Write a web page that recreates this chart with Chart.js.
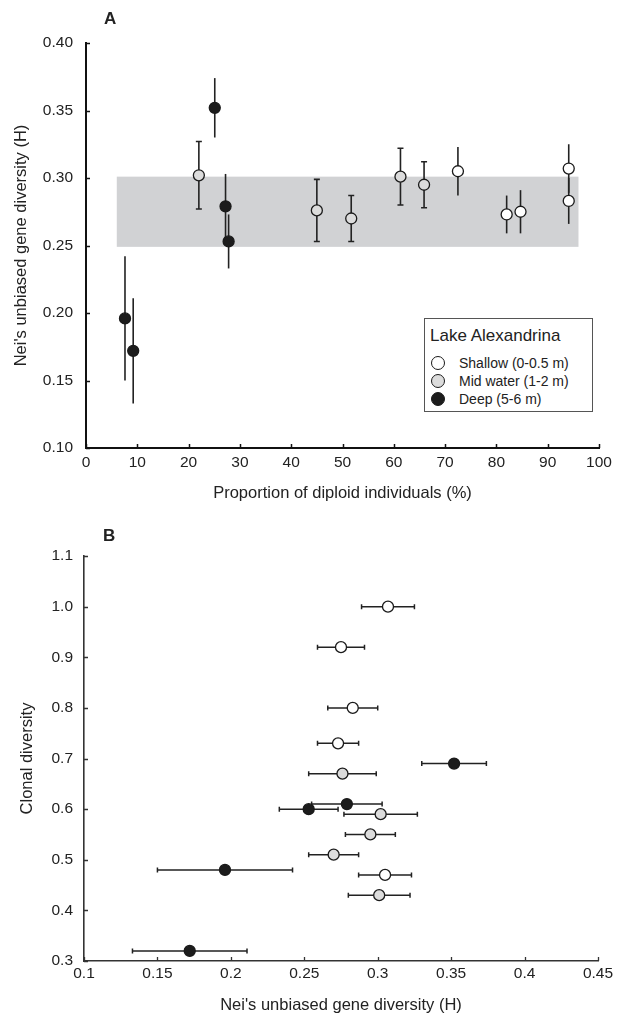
<!DOCTYPE html>
<html>
<head>
<meta charset="utf-8">
<script src="https://cdn.jsdelivr.net/npm/chart.js@4.4.1/dist/chart.umd.min.js"></script>
<style>
  html, body { margin: 0; padding: 0; background: #fff; }
  body { width: 623px; height: 1018px; position: relative; overflow: hidden;
         font-family: "Liberation Sans", Arial, Helvetica, sans-serif; color: #222; }
  .panel { position: absolute; left: 0; width: 623px; height: 509px; }
  #panelA { top: 0; }
  #panelB { top: 509px; }
  .tag { position: absolute; font-weight: bold; font-size: 17px; line-height: 20px; }
  #legend { position: absolute; left: 424px; top: 318px; width: 169px; height: 94px;
            border: 1px solid #555; box-sizing: border-box; background: #fff; }
  #legend .ttl { position: absolute; left: 5px; top: 7px; font-size: 17px; line-height: 20px; }
  #legend .row { position: absolute; left: 6px; height: 16px; font-size: 14px; line-height: 16px; }
  #legend .dot { position: absolute; left: 0; top: 1px; width: 14px; height: 14px; border-radius: 50%;
                 border: 1.3px solid #1a1a1a; box-sizing: border-box; }
  #legend .lbl { position: absolute; left: 28px; top: 0; white-space: nowrap; }
</style>
</head>
<body>
<div class="panel" id="panelA"><canvas id="chartA" width="623" height="509"></canvas></div>
<div class="panel" id="panelB"><canvas id="chartB" width="623" height="509"></canvas></div>
<div class="tag" style="left:104px; top:9px;">A</div>
<div class="tag" style="left:103px; top:526px;">B</div>
<div id="legend"></div>

<script>
// ---- Population groups (Lake Alexandrina sampling depths) ----
const groupNames = ['Shallow (0-0.5 m)', 'Mid water (1-2 m)', 'Deep (5-6 m)'];
const legendTitle = 'Lake Alexandrina';

// Shallow sites
const shallowDiploid = [72.5, 82.0, 84.7, 94.1, 94.1];
const shallowH       = [0.305, 0.273, 0.275, 0.307, 0.283];
const shallowHLow    = [0.287, 0.259, 0.259, 0.289, 0.266];
const shallowHHigh   = [0.323, 0.287, 0.291, 0.325, 0.300];
const shallowClonal  = [0.47, 0.73, 0.92, 1.00, 0.80];

// Mid water sites
const midDiploid = [22.0, 45.0, 51.7, 61.3, 65.9];
const midH       = [0.302, 0.276, 0.270, 0.301, 0.295];
const midHLow    = [0.277, 0.253, 0.253, 0.280, 0.278];
const midHHigh   = [0.327, 0.299, 0.287, 0.322, 0.312];
const midClonal  = [0.59, 0.67, 0.51, 0.43, 0.55];

// Deep sites
const deepDiploid = [7.6, 9.2, 25.1, 27.2, 27.8];
const deepH       = [0.196, 0.172, 0.352, 0.279, 0.253];
const deepHLow    = [0.150, 0.133, 0.330, 0.255, 0.233];
const deepHHigh   = [0.242, 0.211, 0.374, 0.303, 0.273];
const deepClonal  = [0.48, 0.32, 0.69, 0.61, 0.60];

// Shaded reference band in panel A
const bandDiploid = [6, 96];
const bandH       = [0.249, 0.301];

// Axis ticks
const diploidTicks      = [0, 10, 20, 30, 40, 50, 60, 70, 80, 90, 100];
const diploidTickLabels = ['0', '10', '20', '30', '40', '50', '60', '70', '80', '90', '100'];
const hTicksA           = [0.10, 0.15, 0.20, 0.25, 0.30, 0.35, 0.40];
const hTickLabelsA      = ['0.10', '0.15', '0.20', '0.25', '0.30', '0.35', '0.40'];
const hTicksB           = [0.1, 0.15, 0.2, 0.25, 0.3, 0.35, 0.4, 0.45];
const hTickLabelsB      = ['0.1', '0.15', '0.2', '0.25', '0.3', '0.35', '0.4', '0.45'];
const clonalTicks       = [0.3, 0.4, 0.5, 0.6, 0.7, 0.8, 0.9, 1.0, 1.1];
const clonalTickLabels  = ['0.3', '0.4', '0.5', '0.6', '0.7', '0.8', '0.9', '1.0', '1.1'];

// ---- Styling ----
const FONT = '"Liberation Sans", Arial, Helvetica, sans-serif';
const INK = '#222';
const fills = ['#ffffff', '#dcdcdc', '#1c1c1c'];
const capInA = [false, true, false];

const groups = [
  { diploid: shallowDiploid, h: shallowH, lo: shallowHLow, hi: shallowHHigh, clonal: shallowClonal },
  { diploid: midDiploid, h: midH, lo: midHLow, hi: midHHigh, clonal: midClonal },
  { diploid: deepDiploid, h: deepH, lo: deepHLow, hi: deepHHigh, clonal: deepClonal }
];

Chart.defaults.font.family = FONT;
Chart.defaults.color = INK;
Chart.defaults.devicePixelRatio = 1;

// Shaded band behind the points
const bandPlugin = {
  id: 'band',
  beforeDatasetsDraw(chart, args, opts) {
    if (!opts || !opts.xRange) return;
    const { ctx, scales: { x, y } } = chart;
    const x0 = x.getPixelForValue(opts.xRange[0]), x1 = x.getPixelForValue(opts.xRange[1]);
    const y0 = y.getPixelForValue(opts.yRange[1]), y1 = y.getPixelForValue(opts.yRange[0]);
    ctx.save();
    ctx.fillStyle = opts.color;
    ctx.fillRect(x0, y0, x1 - x0, y1 - y0);
    ctx.restore();
  }
};

// Error bars from each dataset's errLow / errHigh arrays
const errorBarPlugin = {
  id: 'errorBars',
  beforeDatasetsDraw(chart, args, opts) {
    const { ctx, scales: { x, y } } = chart;
    ctx.save();
    ctx.strokeStyle = opts.color || INK;
    ctx.lineWidth = opts.width || 1.5;
    chart.data.datasets.forEach(ds => {
      if (!ds.errLow) return;
      ds.data.forEach((p, i) => {
        const lo = ds.errLow[i], hi = ds.errHigh[i];
        const cap = ds.errCap || 0;
        ctx.beginPath();
        if (ds.errAxis === 'y') {
          const px = x.getPixelForValue(p.x);
          const pyLo = y.getPixelForValue(lo), pyHi = y.getPixelForValue(hi);
          ctx.moveTo(px, pyLo); ctx.lineTo(px, pyHi);
          if (cap) {
            ctx.moveTo(px - cap, pyLo); ctx.lineTo(px + cap, pyLo);
            ctx.moveTo(px - cap, pyHi); ctx.lineTo(px + cap, pyHi);
          }
        } else {
          const py = y.getPixelForValue(p.y);
          const pxLo = x.getPixelForValue(lo), pxHi = x.getPixelForValue(hi);
          ctx.moveTo(pxLo, py); ctx.lineTo(pxHi, py);
          if (cap) {
            ctx.moveTo(pxLo, py - cap); ctx.lineTo(pxLo, py + cap);
            ctx.moveTo(pxHi, py - cap); ctx.lineTo(pxHi, py + cap);
          }
        }
        ctx.stroke();
      });
    });
    ctx.restore();
  }
};

// Tick marks pointing into the plot area
const inwardTicksPlugin = {
  id: 'inwardTicks',
  afterDatasetsDraw(chart, args, opts) {
    const { ctx, chartArea, scales: { x, y } } = chart;
    const len = opts.length || 4;
    ctx.save();
    ctx.strokeStyle = opts.color || INK;
    ctx.lineWidth = opts.width || 1.5;
    ctx.beginPath();
    x.ticks.forEach(t => {
      const px = Math.round(x.getPixelForValue(t.value)) + 0.5;
      ctx.moveTo(px, chartArea.bottom); ctx.lineTo(px, chartArea.bottom - len);
    });
    y.ticks.forEach(t => {
      const py = Math.round(y.getPixelForValue(t.value)) + 0.5;
      ctx.moveTo(chartArea.left, py); ctx.lineTo(chartArea.left + len, py);
    });
    ctx.stroke();
    ctx.restore();
  }
};

function fixedTicks(values) {
  return scale => { scale.ticks = values.map(v => ({ value: v })); };
}

function pointStyle(g) {
  return {
    backgroundColor: fills[g],
    borderColor: '#1a1a1a',
    borderWidth: 1.3,
    pointRadius: 5.5,
    pointHoverRadius: 5.5,
    pointStyle: 'circle'
  };
}

// ---- Panel A: gene diversity vs proportion of diploids ----
const datasetsA = groups.map((g, gi) => Object.assign({
  label: groupNames[gi],
  data: g.diploid.map((d, i) => ({ x: d, y: g.h[i] })),
  errLow: g.lo, errHigh: g.hi, errAxis: 'y', errCap: capInA[gi] ? 3 : 0
}, pointStyle(gi)));

new Chart(document.getElementById('chartA'), {
  type: 'scatter',
  data: { datasets: datasetsA },
  options: {
    responsive: false,
    animation: false,
    layout: { padding: { top: 43, right: 24, left: 0, bottom: 0 } },
    plugins: {
      legend: { display: false },
      tooltip: { enabled: false },
      band: { xRange: bandDiploid, yRange: bandH, color: '#d1d2d4' },
      errorBars: { color: '#222', width: 1.6 },
      inwardTicks: { color: '#111', width: 1.5, length: 4 }
    },
    scales: {
      x: {
        type: 'linear', min: 0, max: 100,
        afterBuildTicks: fixedTicks(diploidTicks),
        afterFit: s => { s.height = 61; },
        grid: { display: false, drawTicks: false },
        border: { display: true, color: '#111', width: 2 },
        ticks: { padding: 5, color: INK, font: { size: 15.5 }, maxRotation: 0,
                 callback: (v, i) => diploidTickLabels[i] },
        title: { display: true, text: 'Proportion of diploid individuals (%)', color: INK,
                 font: { size: 16.5 }, padding: { top: 0, bottom: 6 } }
      },
      y: {
        type: 'linear', min: 0.10, max: 0.40,
        afterBuildTicks: fixedTicks(hTicksA),
        afterFit: s => { s.width = 86; },
        grid: { display: false, drawTicks: false },
        border: { display: true, color: '#111', width: 2 },
        ticks: { padding: 13, color: INK, font: { size: 15.5 },
                 callback: (v, i) => hTickLabelsA[i] },
        title: { display: true, text: "Nei's unbiased gene diversity (H)", color: INK,
                 font: { size: 16.5 }, padding: { top: 12, bottom: 0 } }
      }
    }
  },
  plugins: [bandPlugin, errorBarPlugin, inwardTicksPlugin]
});

// ---- Panel B: clonal diversity vs gene diversity ----
const datasetsB = groups.map((g, gi) => Object.assign({
  label: groupNames[gi],
  data: g.h.map((h, i) => ({ x: h, y: g.clonal[i] })),
  errLow: g.lo, errHigh: g.hi, errAxis: 'x', errCap: 2.5
}, pointStyle(gi)));

new Chart(document.getElementById('chartB'), {
  type: 'scatter',
  data: { datasets: datasetsB },
  options: {
    responsive: false,
    animation: false,
    layout: { padding: { top: 47, right: 25, left: 0, bottom: 0 } },
    plugins: {
      legend: { display: false },
      tooltip: { enabled: false },
      errorBars: { color: '#222', width: 1.5 },
      inwardTicks: { color: '#333', width: 1.3, length: 4 }
    },
    scales: {
      x: {
        type: 'linear', min: 0.1, max: 0.45,
        afterBuildTicks: fixedTicks(hTicksB),
        afterFit: s => { s.height = 57; },
        grid: { display: false, drawTicks: false },
        border: { display: true, color: '#333', width: 1.6 },
        ticks: { padding: 3, color: INK, font: { size: 15.5 }, maxRotation: 0,
                 callback: (v, i) => hTickLabelsB[i] },
        title: { display: true, text: "Nei's unbiased gene diversity (H)", color: INK,
                 font: { size: 16.5 }, padding: { top: 0, bottom: 3 } }
      },
      y: {
        type: 'linear', min: 0.3, max: 1.1,
        afterBuildTicks: fixedTicks(clonalTicks),
        afterFit: s => { s.width = 84; },
        grid: { display: false, drawTicks: false },
        border: { display: true, color: '#333', width: 1.6 },
        ticks: { padding: 11, color: INK, font: { size: 15.5 },
                 callback: (v, i) => clonalTickLabels[i] },
        title: { display: true, text: 'Clonal diversity', color: INK,
                 font: { size: 16.5 }, padding: { top: 18, bottom: 0 } }
      }
    }
  },
  plugins: [errorBarPlugin, inwardTicksPlugin]
});

// ---- Legend box ----
(function buildLegend() {
  const box = document.getElementById('legend');
  const t = document.createElement('div');
  t.className = 'ttl';
  t.textContent = legendTitle;
  box.appendChild(t);
  groupNames.forEach((name, i) => {
    const row = document.createElement('div');
    row.className = 'row';
    row.style.top = (36 + i * 18) + 'px';
    const dot = document.createElement('span');
    dot.className = 'dot';
    dot.style.background = fills[i];
    const lbl = document.createElement('span');
    lbl.className = 'lbl';
    lbl.textContent = name;
    row.appendChild(dot);
    row.appendChild(lbl);
    box.appendChild(row);
  });
})();
</script>
</body>
</html>
